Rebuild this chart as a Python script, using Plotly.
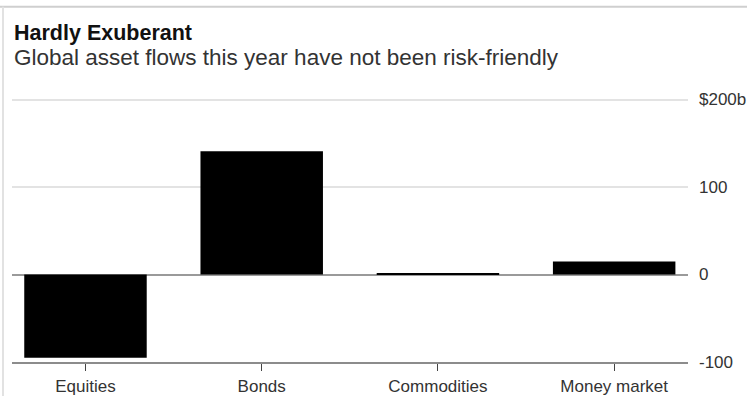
import plotly.graph_objects as go

categories = ["Equities", "Bonds", "Commodities", "Money market"]
flows = [-95, 141, 1.5, 15]
tick_vals = [-100, 0, 100, 200]
tick_text = ["-100", "0", "100", "$200b"]

title = "Hardly Exuberant"
subtitle = "Global asset flows this year have not been risk-friendly"

W, H = 747, 396
L, R, T, B = 12, 59, 95.5, 34
PW, PH = W - L - R, H - T - B

fig = go.Figure(
    go.Bar(
        x=categories,
        y=flows,
        marker=dict(color="#000000", line=dict(width=0)),
        width=0.695,
    )
)

fig.update_layout(
    width=W,
    height=H,
    margin=dict(l=L, r=R, t=T, b=B, pad=0, autoexpand=False),
    paper_bgcolor="white",
    plot_bgcolor="white",
    showlegend=False,
    font=dict(family="Liberation Sans, Arial, sans-serif", color="#333333"),
    xaxis=dict(
        range=[-0.417, 3.419],
        showgrid=False,
        showline=True,
        linecolor="#8c8c8c",
        linewidth=2,
        ticks="outside",
        ticklen=7,
        tickwidth=1,
        tickcolor="#444444",
        ticklabelstandoff=1,
        tickfont=dict(size=17, color="#333333"),
        automargin=False,
        fixedrange=True,
    ),
    yaxis=dict(
        side="right",
        range=[-100, 204],
        tickvals=tick_vals,
        ticktext=tick_text,
        showgrid=True,
        gridcolor="#e3e3e3",
        gridwidth=2,
        zeroline=True,
        zerolinecolor="#9a9a9a",
        zerolinewidth=2,
        showline=False,
        ticks="",
        ticklabelstandoff=10,
        tickfont=dict(size=17, color="#333333"),
        automargin=False,
        fixedrange=True,
    ),
    annotations=[
        dict(text="<b>" + title + "</b>", xref="paper", yref="paper",
             x=0, y=(H - B - 32) / PH, xanchor="left", yanchor="middle",
             showarrow=False, font=dict(size=21.5, color="#111111")),
        dict(text=subtitle, xref="paper", yref="paper",
             x=0, y=(H - B - 57) / PH, xanchor="left", yanchor="middle",
             showarrow=False, font=dict(size=22.5, color="#333333")),
    ],
    shapes=[
        dict(type="line", xref="paper", yref="paper",
             x0=-L / PW, x1=(W - L) / PW,
             y0=(H - B - 6) / PH, y1=(H - B - 6) / PH,
             line=dict(color="#cfcfcf", width=2)),
        dict(type="line", xref="paper", yref="paper",
             x0=(3 - L) / PW, x1=(3 - L) / PW,
             y0=(H - B - 6) / PH, y1=-B / PH,
             line=dict(color="#e2e2e2", width=2)),
    ],
)

fig.write_html("out.html")
